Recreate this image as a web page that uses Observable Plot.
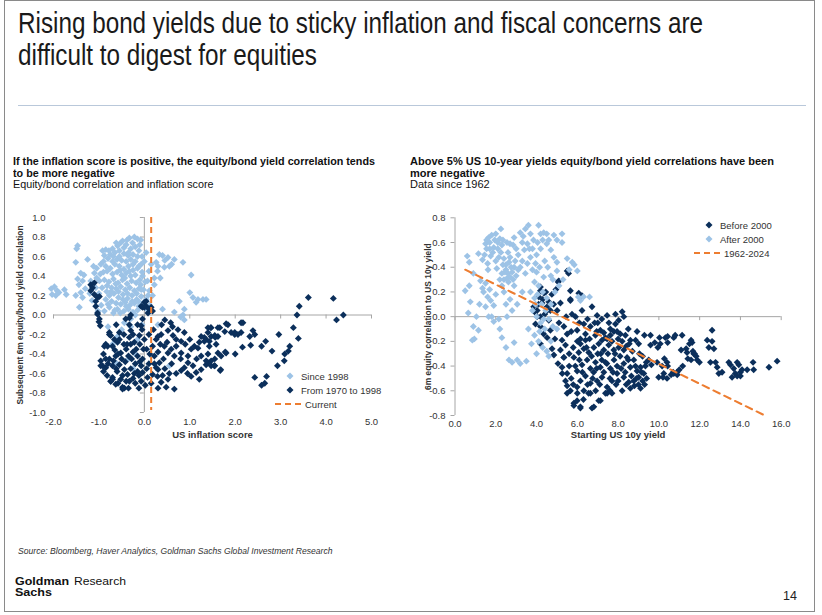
<!DOCTYPE html>
<html>
<head>
<meta charset="utf-8">
<script src="https://cdn.jsdelivr.net/npm/d3@7"></script>
<script src="https://cdn.jsdelivr.net/npm/@observablehq/plot@0.6"></script>
<style>
  html, body { margin: 0; padding: 0; background: #fff; }
  #page { position: relative; width: 822px; height: 615px; overflow: hidden; background: #fff; font-family: "Liberation Sans", Arial, sans-serif; color: #222; }
  .abs { position: absolute; white-space: nowrap; }
  .frame { position: absolute; left: 4px; top: 0px; width: 811px; height: 612px; border: 1px solid #8a8a8a; box-sizing: border-box; }
  .fit { transform-origin: 0 0; }
  .title { left: 18px; top: 7px; font-family: "Liberation Sans", Arial, sans-serif; font-size: 29px; line-height: 32px; color: #1a1a1a; }
  .rule { position: absolute; left: 18px; top: 105px; width: 788px; height: 1px; background: #b9c8da; }
  .sub { font-family: "Liberation Sans", Arial, sans-serif; font-size: 11.5px; line-height: 11.5px; color: #111; }
  .leg { font-size: 9.5px; color: #333; display: flex; align-items: center; height: 14px; }
  .leg svg { margin-right: 4px; }
  .source { left: 18px; top: 546px; font-size: 8.6px; font-style: italic; color: #333; }
  .logo { font-family: "Liberation Sans", Arial, sans-serif; color: #111; font-size: 11px; line-height: 11px; }
</style>
</head>
<body>
<div id="page">
  <div class="frame"></div>
  <div class="abs title fit" data-w="685"><span class="l1">Rising bond yields due to sticky inflation and fiscal concerns are</span><br>difficult to digest for equities</div>
  <div class="rule"></div>
  <div class="abs sub fit" data-w="362" style="left:12.5px;top:156px"><b><span class="l1">If the inflation score is positive, the equity/bond yield correlation tends</span><br>to be more negative</b><br>Equity/bond correlation and inflation score</div>
  <div class="abs sub fit" data-w="364" style="left:410px;top:156px"><b><span class="l1">Above 5% US 10-year yields equity/bond yield correlations have been</span><br>more negative</b><br>Data since 1962</div>
  <div id="chartL" class="abs" style="left:0px;top:205px"></div>
  <div id="chartR" class="abs" style="left:410px;top:205px"></div>
  <div id="legL" class="abs" style="left:270px;top:369px"></div>
  <div id="legR" class="abs" style="left:690px;top:218px"></div>
  <div class="abs source">Source: Bloomberg, Haver Analytics, Goldman Sachs Global Investment Research</div>
  <div class="abs logo fit" data-w="54" style="left:15px;top:576px;font-weight:bold"><span class="l1">Goldman</span></div>
  <div class="abs logo fit" data-w="37" style="left:15px;top:587px;font-weight:bold"><span class="l1">Sachs</span></div>
  <div class="abs logo fit" data-w="52" style="left:74px;top:576px;"><span class="l1">Research</span></div>
  <div class="abs" style="left:783px;top:589px;font-size:12.5px;color:#222">14</div>
</div>
<script>
// ---------- colours ----------
const lightBlue = "#9dc3e6";
const navy = "#0b2f5b";
const orange = "#ed7d31";
const axisGrey = "#a6a6a6";

// ---------- LEFT CHART DATA: [US inflation score, subsequent 6m equity/bond yield correlation] ----------
const leftXTicks = [-2, -1, 0, 1, 2, 3, 4, 5];
const leftYTicks = [-1, -0.8, -0.6, -0.4, -0.2, 0, 0.2, 0.4, 0.6, 0.8, 1];
const currentScore = 0.15;
const leftLegend = ["Since 1998", "From 1970 to 1998", "Current"];

const since1998 = [
  [-2.05,0.27],[-1.98,0.29],[-1.92,0.25],[-2.03,0.21],[-1.95,0.2],[-1.88,0.23],[-1.76,0.26],[-1.72,0.21],
  [-1.47,0.71],[-1.49,0.68],[-1.51,0.54],[-1.25,0.57],[-1.4,0.43],[-1.47,0.37],[-1.36,0.35],[-1.51,0.2],[-1.36,0.18],[-1.4,0.23],[-1.43,0.08],[-1.3,0.27],[-1.44,0.31],[-1.33,0.41],
  [-1.1,0.43],[-1.18,0.35],[-0.99,0.35],[-1.07,0.28],[-0.96,0.52],[-0.88,0.61],[-0.92,0.66],[-0.85,0.67],[-1.2,0.22],[-1.15,0.15],[-1.05,0.48],[-1.0,0.22],[-0.95,0.1],[-1.02,0.04],
  [-0.33,0.79],[-0.48,0.76],[-0.15,0.78],[-0.26,0.74],[-0.59,0.71],[-0.4,0.72],[-0.2,0.7],[-0.08,0.77],[-0.52,0.74],[-0.3,0.68],[-0.12,0.66],[-0.7,0.68],
  [-0.75,0.62],[-0.65,0.64],[-0.55,0.66],[-0.45,0.63],[-0.36,0.61],[-0.25,0.62],[-0.15,0.6],[-0.8,0.58],[-0.6,0.57],[-0.5,0.56],[-0.4,0.55],[-0.3,0.57],[-0.68,0.6],[-0.2,0.55],
  [-0.85,0.5],[-0.75,0.48],[-0.65,0.52],[-0.55,0.5],[-0.45,0.47],[-0.35,0.5],[-0.25,0.46],[-0.15,0.48],[-0.05,0.44],[-0.7,0.42],[-0.6,0.44],[-0.5,0.41],[-0.4,0.43],[-0.3,0.4],[-0.2,0.41],[-0.9,0.44],
  [-0.88,0.36],[-0.78,0.34],[-0.68,0.37],[-0.58,0.33],[-0.48,0.36],[-0.38,0.32],[-0.28,0.35],[-0.18,0.33],[-0.08,0.31],[-0.72,0.28],[-0.62,0.27],[-0.52,0.29],[-0.42,0.26],[-0.32,0.28],[-0.22,0.25],[-0.12,0.27],[-0.02,0.26],[-0.82,0.3],
  [-0.85,0.16],[-0.77,0.2],[-0.67,0.22],[-0.57,0.18],[-0.47,0.21],[-0.37,0.17],[-0.27,0.2],[-0.17,0.16],[-0.07,0.19],[-0.62,0.12],[-0.52,0.11],[-0.42,0.13],[-0.32,0.1],[-0.22,0.12],[-0.12,0.09],[-0.72,0.14],
  [-0.77,0.08],[-0.88,0.04],[-0.59,0.06],[-0.45,0.04],[-0.35,0.06],[-0.25,0.03],[-0.15,0.05],[-0.68,0.02],
  [-0.9,0.55],[-0.82,0.45],[-0.78,0.66],[-0.62,0.74],[-0.55,0.6],[-0.45,0.69],[-0.38,0.77],[-0.22,0.8],[-0.1,0.72],[-0.05,0.6],[-0.33,0.45],[-0.43,0.38],[-0.53,0.46],[-0.63,0.32],[-0.73,0.24],[-0.83,0.24],[-0.93,0.28],[-0.57,0.24],[-0.47,0.16],[-0.37,0.22],[-0.27,0.14],[-0.17,0.22],[-0.1,0.36],[-0.13,0.14],[-0.03,0.12],[-0.4,0.09],[-0.53,0.02],[-0.2,0.0],[-0.3,-0.04],[0.02,0.34],[0.08,0.2],[-0.65,0.05],[-0.8,0.11],[-1.05,0.38],[-1.12,0.5],[-0.97,0.42],[-0.7,0.55],[-0.35,0.64],[-0.25,0.52],[-0.12,0.5],[0.3,0.5],[0.45,0.56],[0.6,0.52],[0.35,0.38],
  [0.04,0.64],[-0.07,0.52],[0.15,0.52],[0.26,0.54],[0.33,0.62],[0.4,0.61],[0.52,0.59],[0.29,0.45],[0.22,0.38],[0.44,0.49],[0.55,0.5],[0.66,0.57],[0.85,0.54],[1.03,0.41],[1.0,0.23],[1.07,0.18],[1.18,0.16],[1.29,0.16],[1.36,0.16],[1.14,0.13],[0.77,0.14],[0.88,0.06],[0.4,0.06],[0.07,0.35],[0.11,0.25],[0.04,0.16],[0.22,0.31],[0.18,0.2],[-0.04,0.4],[-0.07,0.26],[0.0,0.55],[0.1,0.45],[0.05,0.06],[0.12,0.1],
  [0.66,0.03],[0.85,0.0],[0.88,-0.05],[0.8,-0.02],[0.55,-0.52],[-0.44,-0.08],[-0.59,-0.22],[-0.5,-0.15],[-0.3,-0.12],[-0.7,-0.3],[-0.2,-0.4],[-0.35,-0.45],[-0.6,-0.5],[-0.15,-0.25],[-0.05,-0.1],[-0.25,-0.55],[0.3,-0.1],[-0.8,-0.12]
];

const from1970to1998 = [
  [-1.18,0.31],[-1.1,0.33],[-1.14,0.28],[-1.18,0.25],[-1.1,0.21],[-1.03,0.18],[-0.99,0.19],[-1.07,0.14],[-1.07,0.09],[-1.03,0.02],[-1.03,0.007],[-0.99,-0.04],[-0.97,-0.11],[-1.0,-0.07],
  [-0.07,0.09],[0.04,0.14],[0.15,0.08],[-0.04,0.08],[0.04,0.09],[0.11,0.06],[0.18,0.04],[0.0,0.13],[-0.33,-0.03],[-0.3,0.0],[0.08,0.02],
  [-0.77,-0.18],[-0.74,-0.21],[-0.85,-0.3],[-0.7,-0.32],[-0.59,-0.28],[-0.55,-0.25],[-0.52,-0.39],[-0.63,-0.42],[-0.77,-0.45],[-0.96,-0.47],[-0.96,-0.52],[-0.85,-0.54],[-0.7,-0.52],[-0.55,-0.51],[-0.44,-0.56],[-0.37,-0.61],[-0.52,-0.66],[-0.7,-0.64],[-0.74,-0.68],[-0.63,-0.71],[-0.48,-0.74],[-0.33,-0.68],[-0.41,-0.04],[-0.33,-0.1],[-0.3,-0.16],[-0.33,-0.23],[-0.22,-0.28],[-0.18,-0.35],[-0.11,-0.21],[-0.07,-0.11],[-0.04,-0.04],[0.0,0.08],[-0.04,-0.45],[-0.07,-0.52],[-0.04,-0.59],[-0.07,-0.68],[0.07,-0.64],[0.18,-0.61],[0.29,-0.63],[0.26,-0.54],[0.33,-0.49],[0.37,-0.69],[0.48,-0.74],[0.66,-0.76],[0.52,-0.66],[0.22,-0.42],[0.18,-0.32],[0.26,-0.25],[0.37,-0.2],[0.52,-0.16],[0.63,-0.21],[0.74,-0.15],[0.88,-0.18],[0.81,-0.27],[0.7,-0.32],[0.59,-0.35],[0.52,-0.39],[0.44,-0.32],[0.66,-0.42],[0.81,-0.39],[0.96,-0.42],[0.96,-0.49],[0.88,-0.54],[0.81,-0.57],[1.03,-0.35],[1.1,-0.32],[1.21,-0.28],[1.32,-0.23],[1.4,-0.18],[1.47,-0.13],[1.55,-0.21],[1.07,-0.52],[1.14,-0.59],[1.25,-0.56],[1.36,-0.51],[1.47,-0.47],[1.55,-0.52],[1.62,-0.39],[1.43,-0.32],[1.58,-0.3],
  [-0.77,-0.2],[-0.81,-0.32],[-0.88,-0.32],[-0.92,-0.52],[-0.74,-0.68],[-0.7,-0.66],[-0.44,-0.75],[-0.48,-0.76],
  [-0.45,-0.3],[-0.4,-0.35],[-0.35,-0.42],[-0.28,-0.45],[-0.25,-0.38],[-0.15,-0.42],[-0.1,-0.3],[-0.2,-0.5],[-0.3,-0.55],[-0.15,-0.58],[-0.25,-0.65],[-0.12,-0.62],[-0.6,-0.58],[-0.5,-0.45],[-0.42,-0.48],[-0.65,-0.36],[-0.2,-0.7],[0.05,-0.35],[0.0,-0.25],[0.1,-0.5],[0.12,-0.4],[0.3,-0.38],[0.35,-0.3],[0.42,-0.45],[0.45,-0.55],[0.6,-0.5],[0.7,-0.6],[0.38,-0.1],[0.45,-0.05],[0.58,-0.08],[-0.55,-0.18],[-0.62,-0.1],[-0.85,-0.45],[-0.9,-0.58],[-0.58,-0.7],[-0.35,-0.75],
  [-0.9,-0.4],[-0.8,-0.5],[-0.68,-0.47],[-0.58,-0.4],[-0.48,-0.62],[-0.4,-0.68],[-0.3,-0.3],[-0.22,-0.6],[-0.1,-0.48],[-0.02,-0.35],[0.05,-0.55],[0.15,-0.7],[0.22,-0.5],[0.3,-0.56],[0.4,-0.62],[-0.05,-0.15],[0.1,-0.2],[0.2,-0.15],[0.3,-0.22],[0.5,-0.28],[0.62,-0.12],[0.7,-0.25],[0.8,-0.45],[0.9,-0.3],[1.0,-0.25],[1.15,-0.45],[-0.62,-0.55],[-0.82,-0.62],[-0.66,-0.25],[-0.45,-0.2],[-0.15,-0.1],[-0.38,-0.3],[-0.25,-0.2],[0.02,-0.72],[-0.12,-0.75],[0.3,-0.75],[0.55,-0.6],[0.95,-0.6],
  [1.40,-0.13],[1.62,-0.13],[1.84,-0.1],[1.99,-0.18],[2.13,-0.08],[1.25,-0.22],[1.47,-0.22],[1.32,-0.27],[1.18,-0.34],[1.25,-0.42],[1.40,-0.49],[1.54,-0.52],[1.69,-0.42],[1.80,-0.39],[1.67,-0.57],[1.21,-0.66],[1.03,-0.63],
  [3.61,0.18],[4.16,0.17],[3.41,0.09],[3.36,0.0],[4.23,-0.05],[4.38,0.0],[3.28,-0.13],[3.39,-0.24],[3.2,-0.32],[3.17,-0.37],[3.09,-0.4],[3.08,-0.47],[2.93,-0.52],[2.81,-0.37],[2.67,-0.27],[2.58,-0.32],[2.96,-0.2],[2.43,-0.2],[2.39,-0.16],[2.32,-0.22],[2.34,-0.31],[2.17,-0.08],[2.13,-0.18],[2.16,-0.33],[2.0,-0.4],[1.91,-0.18],[1.99,-0.2],[2.06,-0.2],[1.8,-0.09],[1.77,-0.17],[1.78,-0.38],[1.66,-0.13],[1.62,-0.22],[1.56,-0.23],[1.55,-0.45],[1.46,-0.13],[1.43,-0.27],[1.36,-0.25],[1.4,-0.4],[1.36,-0.47],[1.47,-0.52],[1.68,-0.56],[2.43,-0.64],[2.58,-0.72],[2.65,-0.70],[2.69,-0.63]
];

// ---------- RIGHT CHART DATA: [starting US 10y yield, 6m equity correlation to US 10y yield] ----------
const rightXTicks = [0, 2, 4, 6, 8, 10, 12, 14, 16];
const rightYTicks = [-0.8, -0.6, -0.4, -0.2, 0, 0.2, 0.4, 0.6, 0.8];
const trendLine = [[0.5, 0.38], [15.2, -0.8]];
const rightLegend = ["Before 2000", "After 2000", "1962-2024"];

const before2000 = [
  [5.5,0.37],[5.57,0.35],[5.09,0.29],[4.19,0.21],[4.11,0.16],[4.36,0.19],[4.27,0.11],[4.52,0.08],[4.68,0.05],[4.03,0.05],[4.19,0.0],[5.17,0.11],[5.66,0.13],[6.07,0.19],[6.23,0.17],[5.06,0.28],[5.66,0.21],[4.19,0.24],[4.3,0.14],[4.45,0.2],[3.9,0.04],[4.4,0.02],[4.6,0.12],[4.1,0.1],
  [3.86,0.08],[4.03,0.0],[3.95,-0.06],[4.19,-0.08],[4.35,-0.14],[4.52,-0.17],[4.68,-0.11],[4.6,-0.03],[4.52,0.05],[4.84,0.1],[5.01,0.05],[4.76,-0.26],[4.19,-0.22],[4.85,-0.31],[5.34,-0.33],
  [5.66,0.14],[5.74,0.02],[5.91,0.0],[6.23,0.05],[6.72,0.08],[6.97,0.01],[7.46,0.01],[7.87,0.02],[8.2,0.04],[8.28,0.0],[8.03,-0.03],[7.87,-0.06],[7.79,-0.12],[8.11,-0.14],[8.36,-0.15],[8.6,-0.19],[8.93,-0.12],[9.01,-0.22],[9.59,-0.15],[9.59,-0.23],[10.32,-0.17],[10.73,-0.17],[11.14,-0.15],[11.63,-0.21],[11.38,-0.29],[11.71,-0.3],[11.88,-0.35],[9.91,-0.37],[10.16,-0.4],[10.4,-0.37],[10.89,-0.45],[9.99,-0.49],[10.24,-0.46],[10.73,-0.46],
  [5.34,-0.08],[5.5,-0.14],[5.25,-0.19],[5.42,-0.23],[5.17,-0.27],[5.34,-0.33],[5.25,-0.41],[5.5,-0.46],[5.42,-0.52],[5.66,-0.6],[5.83,-0.72],[6.15,-0.73],[6.81,-0.73],[7.05,-0.68],[7.38,-0.62],[6.64,-0.62],[6.32,-0.6],[5.99,-0.57],[6.15,-0.52],[6.4,-0.48],[6.64,-0.54],[6.97,-0.52],[7.21,-0.49],[7.46,-0.57],[7.7,-0.52],[7.95,-0.46],[8.28,-0.49],[8.52,-0.53],[8.77,-0.52],[9.01,-0.49],[8.93,-0.44],[9.26,-0.46],[9.34,-0.4],[9.1,-0.41],[8.6,-0.41],[8.77,-0.35],[8.44,-0.33],[8.28,-0.38],[7.95,-0.4],[7.62,-0.42],[7.38,-0.37],[7.13,-0.41],[6.89,-0.37],[6.64,-0.42],[6.48,-0.35],[6.23,-0.39],[5.99,-0.44],[5.83,-0.33],[6.07,-0.29],[6.32,-0.26],[6.56,-0.29],[6.81,-0.25],[7.05,-0.22],[7.3,-0.27],[7.54,-0.23],[7.79,-0.27],[8.03,-0.25],[8.28,-0.27],[7.38,-0.17],[7.13,-0.11],[6.89,-0.15],[6.64,-0.08],[6.4,-0.14],[6.15,-0.18],[5.99,-0.11],[6.32,-0.06],[7.62,-0.15],[7.62,-0.1],[7.46,-0.18],[7.21,-0.19],[6.15,-0.22],[6.4,-0.19],
  [5.83,-0.7],[5.99,-0.68],[6.15,-0.74],[6.72,-0.74],[7.13,-0.68],[7.46,-0.62],[5.5,-0.62],[5.5,-0.56],[5.26,-0.46],
  [8.8,-0.56],[9.0,-0.55],[9.2,-0.52],[8.6,-0.58],[8.4,-0.55],[9.1,-0.58],[8.9,-0.5],[7.9,-0.55],[7.6,-0.5],[7.1,-0.55],[6.8,-0.45],[6.5,-0.55],[6.0,-0.62],[6.3,-0.67],[5.7,-0.5],[5.9,-0.4],[6.7,-0.32],[7.0,-0.3],[7.2,-0.35],[7.5,-0.3],[7.8,-0.35],[8.1,-0.32],[8.4,-0.24],[8.7,-0.28],[7.7,-0.2],[7.3,-0.13],[7.0,-0.05],[6.5,-0.02],[8.0,-0.18],[8.5,-0.1],[9.8,-0.21],[9.2,-0.32],[9.5,-0.35],[5.8,-0.25],[5.6,-0.3],[6.9,-0.6],[7.7,-0.62],[8.2,-0.6],
  [5.6,-0.4],[5.8,-0.55],[6.1,-0.35],[6.25,-0.45],[6.45,-0.25],[6.55,-0.62],[6.75,-0.5],[6.95,-0.42],[7.15,-0.3],[7.3,-0.45],[7.45,-0.38],[7.6,-0.6],[7.75,-0.45],[7.85,-0.3],[8.0,-0.52],[8.15,-0.42],[8.35,-0.45],[8.5,-0.35],[8.65,-0.48],[8.85,-0.4],[9.05,-0.3],[9.15,-0.45],[9.3,-0.55],[9.4,-0.5],[8.55,-0.22],[8.2,-0.2],[7.95,-0.12],[7.55,-0.05],[7.2,-0.02],[6.85,-0.05],[6.1,-0.05],[5.7,-0.12],[6.0,-0.2],[6.6,-0.18],[6.95,-0.12],[5.45,0.0],[5.1,-0.05],[4.9,-0.18],[5.05,-0.38],[4.75,0.18],[4.95,0.22],
  [12.61,-0.11],[12.37,-0.19],[12.61,-0.2],[12.45,-0.25],[12.7,-0.26],[11.58,-0.19],[11.5,-0.22],[11.67,-0.28],[11.75,-0.3],[11.34,-0.26],[11.42,-0.34],[11.58,-0.35],[11.83,-0.32],[11.99,-0.37],[11.09,-0.27],[11.17,-0.4],[10.43,-0.16],[10.43,-0.21],[10.03,-0.17],[10.07,-0.22],[9.95,-0.25],[9.29,-0.15],[8.86,-0.19],[10.8,-0.15],[10.27,-0.34],[10.43,-0.4],[9.63,-0.39],[9.38,-0.37],[12.53,-0.37],[12.78,-0.37],[12.86,-0.41],[13.1,-0.45],[12.94,-0.46],[13.43,-0.37],[13.51,-0.39],[13.84,-0.37],[13.92,-0.39],[13.67,-0.42],[13.75,-0.46],[14.0,-0.45],[14.08,-0.43],[13.84,-0.48],[14.0,-0.48],[14.33,-0.43],[14.65,-0.43],[14.62,-0.37],[15.4,-0.41],[15.8,-0.36],[13.59,-0.49],[10.4,-0.5],[10.2,-0.49],[10.6,-0.47],[10.9,-0.47],[10.7,-0.45],[11.0,-0.43]
];

const after2000 = [
  [0.6,0.49],[0.7,0.44],[0.5,0.21],[0.7,0.25],[0.75,0.12],[0.65,0.03],[0.9,-0.08],[0.95,-0.18],[0.85,-0.19],[1.15,-0.11],[1.15,0.51],[0.9,0.35],
  [1.5,0.59],[1.65,0.64],[1.8,0.66],[1.9,0.56],[1.75,0.49],[1.6,0.43],[2.0,0.45],[2.05,0.39],[2.2,0.63],[2.25,0.71],[1.45,0.5],[1.7,0.6],[1.85,0.52],[2.1,0.55],[1.55,0.55],[1.95,0.62],[2.15,0.48],[2.3,0.58],[1.35,0.46],[1.62,0.38],
  [1.35,0.23],[1.5,0.27],[1.25,0.29],[1.6,0.16],[1.75,0.13],[1.5,0.08],[1.9,0.09],[1.8,0.0],[1.65,0.0],[1.9,-0.04],[2.15,-0.02],[2.2,-0.1],[2.3,-0.17],[2.5,-0.25],[2.65,-0.35],[2.8,-0.37],[3.05,-0.35],[3.2,-0.38],[2.9,-0.21],[2.55,0.0],[2.8,0.05],[3.05,0.1],[2.7,0.14],[1.4,0.2],[1.7,0.22],[2.0,0.18],[2.3,0.25],[2.4,0.2],
  [2.3,0.35],[2.4,0.3],[2.5,0.38],[2.6,0.35],[2.7,0.32],[2.8,0.36],[2.5,0.42],[2.65,0.44],[2.9,0.4],[3.0,0.33],[2.35,0.42],[2.55,0.31],[2.75,0.4],[2.45,0.36],[2.62,0.28],[2.85,0.3],[3.1,0.38],[2.7,0.48],[2.4,0.47],[2.95,0.45],
  [2.7,0.59],[2.9,0.64],[3.2,0.68],[3.45,0.71],[3.6,0.74],[3.7,0.67],[3.85,0.62],[4.1,0.74],[4.2,0.67],[4.35,0.68],[4.5,0.67],[4.85,0.66],[5.0,0.62],[4.5,0.59],[4.7,0.54],[4.85,0.48],[5.0,0.44],[5.25,0.6],[5.25,0.67],[3.55,0.59],[3.4,0.54],[3.7,0.48],[4.0,0.5],[3.95,0.43],[3.55,0.43],[3.2,0.4],[4.0,0.36],[4.35,0.32],[4.7,0.33],[5.0,0.37],[5.5,0.47],[5.75,0.44],[5.85,0.42],[3.0,0.55],[3.3,0.6],[3.8,0.55],[4.2,0.55],[4.4,0.45],[3.1,0.5],[2.6,0.52],
  [1.55,0.62],[1.7,0.55],[2.0,0.67],[2.1,0.6],[2.25,0.52],[2.35,0.62],[2.55,0.6],[2.85,0.58],[3.35,0.65],[3.65,0.55],[4.05,0.6],[4.3,0.62],[4.6,0.62],[3.3,0.45],[3.45,0.35],[3.8,0.38],[2.2,0.3],[2.9,0.25],[1.2,0.1],[1.05,0.0],[2.5,0.1],[3.3,0.2],[4.15,0.4],[4.55,0.4],[3.9,0.28],[4.8,0.3],
  [3.7,0.2],[3.9,0.15],[4.1,0.25],[4.3,0.2],[4.5,0.15],[4.7,0.1],[4.9,0.2],[3.8,0.05],[4.0,0.0],[4.2,-0.05],[4.4,-0.1],[4.6,-0.02],[4.8,-0.08],[3.9,-0.15],[4.1,-0.2],[4.3,-0.25],[4.5,-0.28],[4.7,-0.2],[3.6,-0.1],[3.75,-0.22],[4.0,-0.3],[3.5,-0.36],[4.6,-0.32],[5.0,-0.1],[4.25,0.1],[4.45,0.05],[3.95,0.1],[4.15,-0.12],[4.35,-0.02],[4.05,0.18],[5.1,0.25],[5.3,0.3],
  [6.05,0.16],[6.3,0.16],[6.6,0.16],[6.15,0.13],[6.0,0.37],[5.6,0.38]
];

// ---------- helpers ----------
const fmt = d => d.toFixed(1);
const axisFont = {fontFamily: "'Liberation Sans', Arial, sans-serif", fontSize: "9.5px", color: "#333", background: "transparent", overflow: "visible"};

function scatter({data1, col1, data2, col2, xDomain, yDomain, xTicks, yTicks, margins, xLabel, yLabel, yLabelDx, xLabelDy, xPad, yPad, extra, vAxisX}) {
  return Plot.plot({
    width: 400, height: 240,
    ...margins,
    style: axisFont,
    x: {domain: xDomain},
    y: {domain: yDomain},
    marks: [
      Plot.axisX({ticks: xTicks, tickSize: 0, tickPadding: xPad, tickFormat: fmt, label: null, fill: "#333"}),
      Plot.axisY({ticks: yTicks, tickSize: 0, tickPadding: yPad, tickFormat: fmt, label: null, fill: "#333"}),
      Plot.ruleY([0], {stroke: axisGrey, strokeWidth: 1}),
      Plot.ruleX([vAxisX], {stroke: axisGrey, strokeWidth: 1}),
      Plot.ruleX(xTicks, {x: d => d, y1: 0, y2: 0, insetTop: 0, insetBottom: -4, stroke: axisGrey}),
      Plot.ruleY(yTicks, {y: d => d, x1: vAxisX, x2: vAxisX, insetLeft: -4, insetRight: 0, stroke: axisGrey}),
      Plot.dot(data1, {x: d => d[0], y: d => d[1], symbol: "diamond2", r: 3.1, fill: col1, stroke: "none"}),
      Plot.dot(data2, {x: d => d[0], y: d => d[1], symbol: "diamond2", r: 3.1, fill: col2, stroke: "none"}),
      ...extra,
      Plot.text([xLabel], {frameAnchor: "bottom", dy: xLabelDy, text: d => d, textAnchor: "middle", fontWeight: "bold", fontSize: 9.5, fill: "#333"}),
      Plot.text([yLabel], {frameAnchor: "left", dx: yLabelDx, rotate: -90, text: d => d, textAnchor: "middle", fontWeight: "bold", fontSize: 8.4, fill: "#333"})
    ]
  });
}

const left = scatter({
  data1: since1998, col1: lightBlue, data2: from1970to1998, col2: navy,
  xDomain: [-2, 5], yDomain: [-1, 1], xTicks: leftXTicks, yTicks: leftYTicks,
  margins: {marginLeft: 53, marginRight: 29, marginTop: 12, marginBottom: 33},
  xLabel: "US inflation score", yLabel: "Subsequent 6m equity/bond yield correlation",
  yLabelDx: -33, xLabelDy: 25, xPad: 6, yPad: 8, vAxisX: 0,
  extra: [Plot.ruleX([currentScore], {x: d => d, y1: 1, y2: -0.98, stroke: orange, strokeWidth: 2, strokeDasharray: "6,4"})]
});
document.getElementById("chartL").appendChild(left);

const right = scatter({
  data1: before2000, col1: navy, data2: after2000, col2: lightBlue,
  xDomain: [0, 16], yDomain: [-0.8, 0.8], xTicks: rightXTicks, yTicks: rightYTicks,
  margins: {marginLeft: 44.5, marginRight: 29.3, marginTop: 12.3, marginBottom: 30},
  xLabel: "Starting US 10y yield", yLabel: "6m equity correlation to US 10y yield",
  yLabelDx: -27, xLabelDy: 22, xPad: 4.5, yPad: 9.5, vAxisX: 0,
  extra: [Plot.line(trendLine, {x: d => d[0], y: d => d[1], stroke: orange, strokeWidth: 2, strokeDasharray: "7,5"})]
});
document.getElementById("chartR").appendChild(right);

// ---------- legends ----------
function diamond(col) {
  return `<svg width="14" height="10" viewBox="0 0 14 10"><path d="M7,1.5 L10.5,5 L7,8.5 L3.5,5 Z" fill="${col}"/></svg>`;
}
function dash() {
  return `<svg width="26" height="10" viewBox="0 0 26 10"><line x1="0" y1="5" x2="26" y2="5" stroke="${orange}" stroke-width="2" stroke-dasharray="6,4"/></svg>`;
}
document.getElementById("legL").innerHTML =
  `<div class="leg" style="padding-left:13px">${diamond(lightBlue)}<span>${leftLegend[0]}</span></div>` +
  `<div class="leg" style="padding-left:13px">${diamond(navy)}<span>${leftLegend[1]}</span></div>` +
  `<div class="leg" style="padding-left:5px">${dash()}<span>${leftLegend[2]}</span></div>`;
document.getElementById("legR").innerHTML =
  `<div class="leg" style="padding-left:12px">${diamond(navy)}<span>${rightLegend[0]}</span></div>` +
  `<div class="leg" style="padding-left:12px">${diamond(lightBlue)}<span>${rightLegend[1]}</span></div>` +
  `<div class="leg" style="padding-left:4px">${dash()}<span>${rightLegend[2]}</span></div>`;

// ---------- condense text blocks to the reference widths ----------
document.querySelectorAll(".fit").forEach(el => {
  const l1 = el.querySelector(".l1");
  const w = l1.getBoundingClientRect().width;
  const target = +el.dataset.w;
  if (w > 0) el.style.transform = `scaleX(${target / w})`;
});
</script>
</body>
</html>
